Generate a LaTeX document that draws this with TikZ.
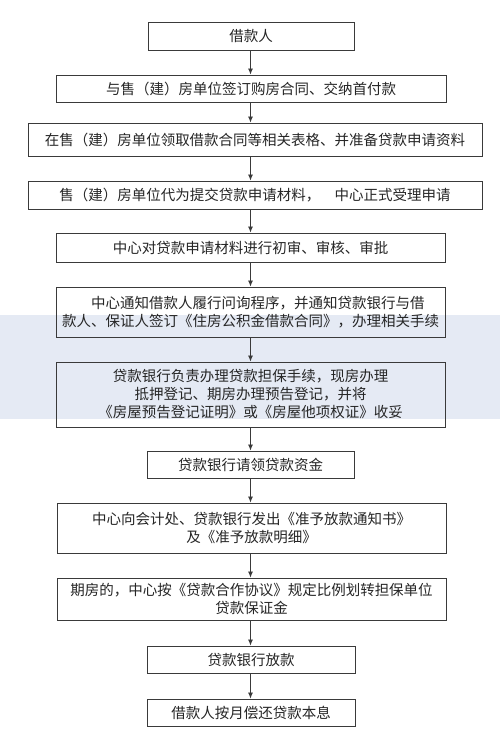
\documentclass[tikz,border=0pt]{standalone}
\usepackage{fontspec}
\setmainfont{Noto Sans CJK SC}
\usetikzlibrary{arrows.meta}
\definecolor{bandcol}{HTML}{E5EAF4}
\definecolor{linecol}{HTML}{3A3A3A}
\definecolor{txtcol}{HTML}{262626}
\begin{document}
\begin{tikzpicture}[x=1pt,y=-1pt,
  box/.style={draw=linecol, line width=0.9pt, inner sep=1pt, align=center,
    font=\fontsize{14.5}{18}\selectfont, text=txtcol},
  arr/.style={draw=linecol, line width=0.8pt, -{Latex[length=6pt,width=5pt]}}]
\path[use as bounding box, fill=white] (0,0) rectangle (500,736);
\fill[bandcol] (0,315) rectangle (500,419);

\node[box, minimum width=206pt, minimum height=28pt] (b1) at (251,36) {借款人};
\node[box, minimum width=390pt, minimum height=27pt] (b2) at (251,88.5) {与售（建）房单位签订购房合同、交纳首付款};
\node[box, minimum width=454pt, minimum height=33pt] (b3) at (255,139.5) {在售（建）房单位领取借款合同等相关表格、并准备贷款申请资料};
\node[box, minimum width=454pt, minimum height=28pt] (b4) at (255,195) {售（建）房单位代为提交贷款申请材料，　中心正式受理申请};
\node[box, minimum width=389pt, minimum height=29pt] (b5) at (250.5,247.5) {中心对贷款申请材料进行初审、审核、审批};
\node[box, align=left, minimum width=389pt, minimum height=50pt] (b6) at (250.5,312) {\hspace*{2em}中心通知借款人履行问询程序，并通知贷款银行与借\\款人、保证人签订《住房公积金借款合同》，办理相关手续};
\node[box, minimum width=389pt, minimum height=65pt] (b7) at (250.5,394.5) {贷款银行负责办理贷款担保手续，现房办理\\抵押登记、期房办理预告登记，并将\\《房屋预告登记证明》或《房屋他项权证》收妥};
\node[box, minimum width=207pt, minimum height=27pt] (b8) at (250.5,464.5) {贷款银行请领贷款资金};
\node[box, minimum width=389pt, minimum height=50pt] (b9) at (251.5,528) {中心向会计处、贷款银行发出《准予放款通知书》\\及《准予放款明细》};
\node[box, minimum width=389pt, minimum height=42pt] (b10) at (251.5,599) {期房的，中心按《贷款合作协议》规定比例划转担保单位\\贷款保证金};
\node[box, minimum width=208pt, minimum height=27pt] (b11) at (251,659.5) {贷款银行放款};
\node[box, minimum width=208pt, minimum height=27pt] (b12) at (251,712.5) {借款人按月偿还贷款本息};

\coordinate (ax) at (250.5,0);
\foreach \a/\b in {b1/b2,b2/b3,b3/b4,b4/b5,b5/b6,b6/b7,b7/b8,b8/b9,b9/b10,b10/b11,b11/b12}{
  \draw[arr] (ax |- \a.south) -- (ax |- \b.north);
}
\end{tikzpicture}
\end{document}
